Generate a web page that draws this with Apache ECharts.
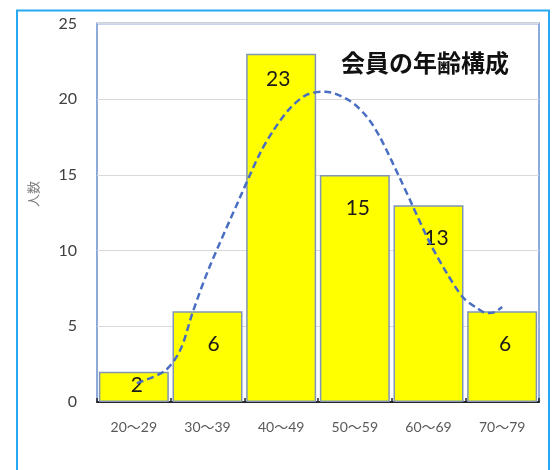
<!DOCTYPE html>
<html>
<head>
<meta charset="utf-8">
<script src="https://cdn.jsdelivr.net/npm/echarts@6/dist/echarts.min.js"></script>
<style>
  html, body { margin: 0; padding: 0; background: #ffffff; }
  #chart { width: 555px; height: 470px; }
</style>
</head>
<body>
<div id="chart"></div>
<script>
// Age groups and member counts
const ageGroups = ['20～29', '30～39', '40～49', '50～59', '60～69', '70～79'];
const memberCounts = [2, 6, 23, 15, 13, 6];
const yTicks = [0, 5, 10, 15, 20, 25];

// Trend curve drawn over the columns (x in category units, 0 = left edge of first group)
const trendX = [0.54, 0.92, 1.13, 1.30, 1.51, 1.94, 2.21, 2.39, 2.62, 2.85, 3.10, 3.43, 3.67, 3.84, 4.11, 4.29, 4.52, 4.75, 4.97, 5.16, 5.29, 5.40, 5.50];
const trendY = [1.25, 2.05, 3.43, 5.94, 8.71, 13.5, 16.4, 17.9, 19.4, 20.3, 20.5, 19.9, 18.8, 17.5, 14.8, 12.9, 10.5, 8.5, 6.9, 6.2, 5.87, 5.94, 6.27];

// Placement of each value label: gap below the column top, sideways nudge
const labelGap = [3, 23, 15, 23, 23, 23];
const labelShift = [3, 6, -3, 3, 8, 3];

const chart = echarts.init(document.getElementById('chart'), null, { renderer: 'canvas' });

const numFont = 'Lato, "Noto Sans CJK JP", sans-serif';

chart.setOption({
  backgroundColor: '#ffffff',
  animation: false,
  title: {
    text: '会員の年齢構成',
    left: 336,
    top: 46,
    textStyle: {
      fontFamily: '"Noto Sans CJK JP", sans-serif',
      fontSize: 24,
      fontWeight: 'bold',
      color: '#111111'
    }
  },
  graphic: [{
    type: 'rect',
    z: -10,
    shape: { x: 17, y: 10.5, width: 532, height: 480 },
    style: { fill: 'none', stroke: '#27a8f2', lineWidth: 2 }
  }, {
    type: 'text',
    x: 33,
    y: 194,
    rotation: Math.PI / 2,
    style: {
      text: '人数',
      fontSize: 13,
      fill: '#7f7f7f',
      fontFamily: '"Noto Sans CJK JP", sans-serif',
      align: 'center',
      verticalAlign: 'middle'
    }
  }],
  grid: {
    left: 97, right: 16, top: 23.5, bottom: 68,
    show: true,
    borderColor: '#8eaadb',
    borderWidth: 2,
    backgroundColor: 'transparent'
  },
  xAxis: [{
    type: 'category',
    data: ageGroups,
    axisLine: { lineStyle: { color: '#262626', width: 2 } },
    axisTick: { show: true, inside: true, alignWithLabel: true, length: 3, lineStyle: { color: '#404040' } },
    axisLabel: { margin: 18, fontSize: 14, color: '#595959', fontFamily: numFont },
    splitLine: { show: false }
  }, {
    type: 'value',
    min: 0, max: 6, interval: 1,
    position: 'bottom',
    axisLine: { show: false },
    axisTick: { show: true, inside: true, length: 4, lineStyle: { color: '#262626', width: 1.5 } },
    axisLabel: { show: false },
    splitLine: { show: false }
  }],
  yAxis: {
    type: 'value',
    min: yTicks[0],
    max: yTicks[yTicks.length - 1],
    interval: yTicks[1] - yTicks[0],
    axisLine: { show: false },
    axisTick: { show: false },
    axisLabel: { margin: 20, fontSize: 16, color: '#404040', fontFamily: numFont },
    splitLine: { show: true, lineStyle: { color: '#d9d9d9', width: 1 } }
  },
  series: [{
    type: 'bar',
    xAxisIndex: 0,
    data: memberCounts.map((v, i) => ({
      value: v,
      label: { distance: labelGap[i], offset: [labelShift[i], 0] }
    })),
    barCategoryGap: '5%',
    itemStyle: { color: '#ffff00', borderColor: '#8095b8', borderWidth: 1.5 },
    label: {
      show: true,
      position: 'insideTop',
      fontSize: 21,
      color: '#1a1a1a',
      fontFamily: numFont
    },
    z: 2
  }, {
    type: 'line',
    xAxisIndex: 1,
    data: trendX.map((x, i) => [x, trendY[i]]),
    smooth: 0.3,
    symbol: 'none',
    lineStyle: { color: '#4a6fc2', width: 2.5, type: [7, 4] },
    z: 5
  }]
});
</script>
</body>
</html>
